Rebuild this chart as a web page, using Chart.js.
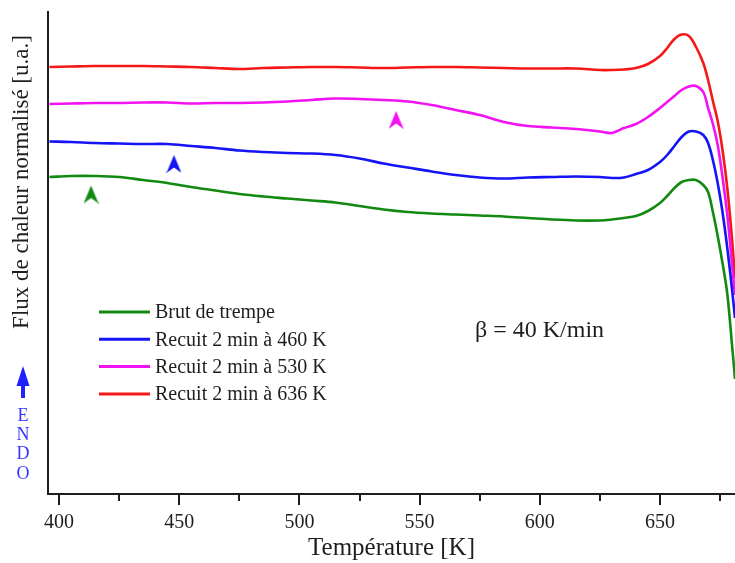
<!DOCTYPE html>
<html><head><meta charset="utf-8">
<script src="https://cdn.jsdelivr.net/npm/chart.js@4/dist/chart.umd.min.js"></script>
<style>html,body{margin:0;padding:0;background:#fff}canvas{display:block}</style>
</head><body>
<canvas id="c" width="735" height="563"></canvas>
<script>
// ---- data (temperature in K, heat flow in arbitrary units) ----
const temperatures = [396, 405, 415, 425, 435, 445, 455, 465, 475, 485, 495, 505, 515, 525, 535, 545, 555, 565, 575, 585, 595, 605, 615, 625, 630, 635, 640, 645, 650, 653, 656, 659, 662, 665, 668, 670, 672, 674, 676, 678, 680, 681.2];
const brutDeTrempe = [317,318,318,317,314,311,307,303.5,300,297.5,295.5,293.5,291.5,288,284.5,282,280.5,279.5,278.5,277.5,276,274.5,273.5,273.5,274.5,276,278,283,291,298,306,312,314,314,309,302,282,258,231,200,148,115];
const recuit460 = [352.5,352,351,350.5,350,350,348,346,343.5,342,341,340.5,339,335.5,330.5,326.5,322.5,319,316.5,315.5,316.5,317,317.5,317,316,316.5,320,324,332,339,348,357,362.5,362.5,359,351,334,311,282,246,204,176];
const recuit530 = [390,390.5,391,391,391.5,391.5,390.5,391,391,391.5,392.5,394,395.5,395,394,392.5,389,384,379,372,368,366.5,365,362.5,361,366,370,377,386,392,398,404,407.5,408,402,386,370,349,317,279,229,199];
const recuit636 = [427,427.5,428,428,428,427.5,427,426,425,426,426.5,427,427,426.5,426,426.5,427,427,426.5,426,425.5,425.5,425.5,424,424,424.5,426,430,438,446,455,459.5,458,447,431,414,393,373,344,306,254,216];
const seriesLabels = ['Brut de trempe', 'Recuit 2 min à 460 K', 'Recuit 2 min à 530 K', 'Recuit 2 min à 636 K'];
const seriesColors = ['#128a12', '#1414f4', '#f212f2', '#f51818'];
const markerTemps = [413.3, 447.8, 540.2];
const markerValues = [299.5, 330, 374];
const xMin = 395.4, xMax = 681.2, xStep = 25, xLabelStep = 50;
const yMin = 0, yMax = 482;

const SERIF = "'Liberation Serif', 'Times New Roman', serif";
const INK = '#1e1e1e';

function pts(ys) { return temperatures.map((t, i) => ({x: t, y: ys[i]})); }
function arrowImg(color) {
  const c = document.createElement('canvas');
  c.width = 15; c.height = 18;
  const g = c.getContext('2d');
  g.fillStyle = color;
  g.beginPath();
  g.moveTo(7.5, 0); g.lineTo(15, 18); g.lineTo(7.5, 12.5); g.lineTo(0, 18); g.closePath();
  g.fill();
  return c;
}

const series = [brutDeTrempe, recuit460, recuit530, recuit636];
const datasets = series.map((s, i) => ({
  type: 'line', label: seriesLabels[i], data: pts(s),
  borderColor: seriesColors[i], backgroundColor: seriesColors[i],
  borderWidth: 2.6, pointRadius: 0, tension: 0.35, fill: false
}));
datasets.push({
  type: 'scatter', label: 'markers', isMarker: true,
  data: markerTemps.map((t, i) => ({x: t, y: markerValues[i]})),
  pointStyle: [arrowImg(seriesColors[0]), arrowImg(seriesColors[1]), arrowImg(seriesColors[2])],
  pointRadius: 8, borderWidth: 0
});

const decor = {
  id: 'decor',
  afterDraw(chart) {
    const ctx = chart.ctx, xs = chart.scales.x, area = chart.chartArea;
    ctx.save();
    ctx.strokeStyle = INK; ctx.lineWidth = 2;
    xs.ticks.forEach(t => {
      const px = Math.round(xs.getPixelForValue(t.value));
      const len = (t.value % xLabelStep === 0) ? 11 : 7;
      ctx.beginPath(); ctx.moveTo(px, area.bottom); ctx.lineTo(px, area.bottom + len); ctx.stroke();
    });
    ctx.fillStyle = INK;
    ctx.font = '23px ' + SERIF;
    ctx.textAlign = 'center'; ctx.textBaseline = 'middle';
    ctx.translate(21.5, 182); ctx.rotate(-Math.PI / 2);
    ctx.fillText('Flux de chaleur normalisé [u.a.]', 0, 0);
    ctx.restore();
    ctx.save();
    ctx.fillStyle = '#1f1fff'; ctx.strokeStyle = '#1f1fff';
    ctx.lineWidth = 4;
    ctx.beginPath(); ctx.moveTo(23, 398); ctx.lineTo(23, 382); ctx.stroke();
    ctx.beginPath(); ctx.moveTo(23, 366); ctx.lineTo(29.5, 386); ctx.lineTo(16.5, 386); ctx.closePath(); ctx.fill();
    ctx.font = '18px ' + SERIF; ctx.fillStyle = '#3535ff';
    ctx.textAlign = 'center'; ctx.textBaseline = 'middle';
    ['E', 'N', 'D', 'O'].forEach((ch, i) => ctx.fillText(ch, 23, 416 + i * 19.3));
    ctx.fillStyle = INK; ctx.font = '24px ' + SERIF; ctx.textAlign = 'left';
    ctx.fillText('β = 40 K/min', 475, 331);
    ctx.font = '20px ' + SERIF;
    chart.data.datasets.filter(d => !d.isMarker).forEach((d, i) => {
      const y = 312 + i * 27.3;
      ctx.strokeStyle = d.borderColor; ctx.lineWidth = 3;
      ctx.beginPath(); ctx.moveTo(99, y); ctx.lineTo(150, y); ctx.stroke();
      ctx.fillStyle = INK;
      ctx.fillText(d.label, 155, y + 1);
    });
    ctx.restore();
  }
};

new Chart(document.getElementById('c'), {
  data: {datasets},
  options: {
    responsive: false, devicePixelRatio: 1, animation: false,
    layout: {autoPadding: false, padding: {top: 12, left: 0, right: 0, bottom: 0}},
    plugins: {legend: {display: false}, tooltip: {enabled: false}},
    scales: {
      x: {
        type: 'linear', position: 'bottom', min: xMin, max: xMax,
        grid: {display: false, drawTicks: false},
        border: {display: true, color: INK, width: 2},
        ticks: {stepSize: xStep, includeBounds: false, autoSkip: false, maxRotation: 0,
          padding: 17, color: INK, font: {family: SERIF, size: 20},
          callback: v => (v % xLabelStep === 0 ? String(v) : '')},
        title: {display: true, text: 'Température [K]', color: INK,
          font: {family: SERIF, size: 25}, padding: {top: 0, bottom: 0}},
        afterFit: s => { s.height = 69; s.paddingLeft = 0; s.paddingRight = 0; }
      },
      y: {
        type: 'linear', min: yMin, max: yMax,
        grid: {display: false, drawTicks: false},
        border: {display: true, color: INK, width: 2},
        ticks: {display: false},
        afterFit: s => { s.width = 48; s.paddingTop = 0; s.paddingBottom = 0; }
      }
    }
  },
  plugins: [decor]
});
</script>
</body></html>
